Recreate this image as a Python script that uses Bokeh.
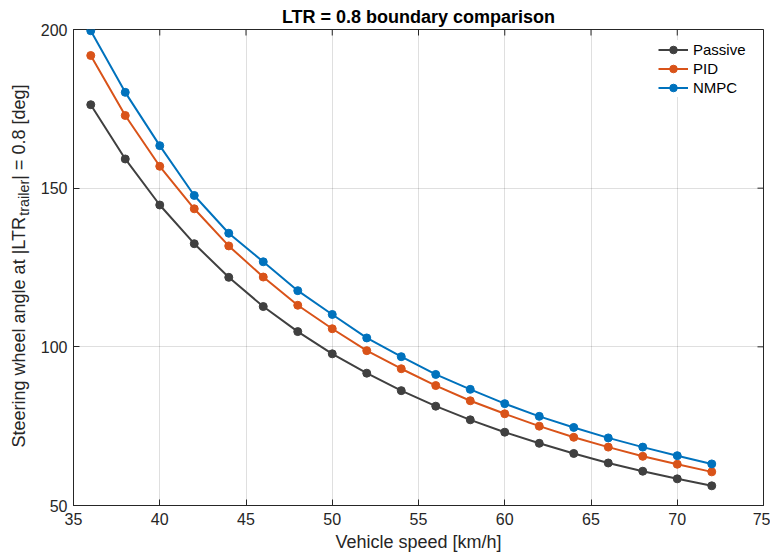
from bokeh.plotting import figure
from bokeh.models import Label, Legend, LegendItem, FixedTicker, Range1d
from bokeh.layouts import row
from bokeh.embed import file_html
from bokeh.resources import INLINE
import math

# ---- data ----
speeds = [36, 38, 40, 42, 44, 46, 48, 50, 52, 54, 56, 58, 60, 62, 64, 66, 68, 70, 72]
passive = [176.3, 159.2, 144.7, 132.5, 121.9, 112.7, 104.8, 97.8, 91.7, 86.2,
           81.3, 77.0, 73.1, 69.6, 66.4, 63.4, 60.8, 58.4, 56.2]
pid = [191.8, 172.9, 156.9, 143.5, 131.8, 122.0, 113.1, 105.7, 98.8, 93.1,
       87.8, 83.0, 78.9, 75.0, 71.5, 68.4, 65.5, 63.0, 60.6]
nmpc = [199.6, 180.2, 163.4, 147.7, 135.8, 126.8, 117.7, 110.2, 102.8, 96.9,
        91.3, 86.6, 82.1, 78.1, 74.6, 71.3, 68.4, 65.7, 63.1]
series_names = ["Passive", "PID", "NMPC"]
series_colors = ["#404040", "#D95319", "#0072BD"]
x_ticks = [35, 40, 45, 50, 55, 60, 65, 70, 75]
y_ticks = [50, 100, 150, 200]
title_text = "LTR = 0.8 boundary comparison"
x_label = "Vehicle speed [km/h]"
y_label_parts = ["Steering wheel angle at |LTR", "trailer", "| = 0.8 [deg]"]

FONT = "Liberation Sans"
AX = "#262626"
W, H = 770, 556
LW = 37                      # width of the strip holding the y-axis label
BL, BR, BT, BB = 36, 7, 29, 51
X0, X1 = x_ticks[0], x_ticks[-1]
Y0, Y1 = y_ticks[0], y_ticks[-1]

p = figure(width=W - LW, height=H, x_range=Range1d(X0, X1), y_range=Range1d(Y0, Y1),
           output_backend="svg", toolbar_location=None,
           min_border_left=BL, min_border_right=BR, min_border_top=BT, min_border_bottom=BB,
           title=title_text)
p.background_fill_color = "white"
p.border_fill_color = "white"
p.outline_line_color = AX
p.outline_line_width = 1

p.title.text_font = FONT
p.title.text_font_size = "18px"
p.title.text_font_style = "bold"
p.title.text_color = "#000000"
p.title.align = "center"
p.title.standoff = 5

def style_axis(ax):
    ax.axis_line_color = AX
    ax.axis_line_width = 1
    ax.major_tick_line_color = AX
    ax.major_tick_in = 6
    ax.major_tick_out = 0
    ax.minor_tick_line_color = None
    ax.major_label_text_font = FONT
    ax.major_label_text_color = AX
    ax.major_label_text_font_size = "16px"

p.xaxis.ticker = FixedTicker(ticks=x_ticks)
p.yaxis.ticker = FixedTicker(ticks=y_ticks)
style_axis(p.xaxis[0])
style_axis(p.yaxis[0])
p.xaxis.major_label_standoff = 7
p.yaxis.major_label_standoff = 6
p.xaxis.axis_label = x_label
p.xaxis.axis_label_text_font = FONT
p.xaxis.axis_label_text_font_size = "18px"
p.xaxis.axis_label_text_font_style = "normal"
p.xaxis.axis_label_text_color = AX
p.xaxis.axis_label_standoff = 4

for g in (p.xgrid[0], p.ygrid[0]):
    g.grid_line_color = AX
    g.grid_line_alpha = 0.15
p.xgrid.ticker = FixedTicker(ticks=x_ticks)
p.ygrid.ticker = FixedTicker(ticks=y_ticks)

# inward ticks on the top and right edges of the box
p.ray(x=x_ticks, y=[Y1] * len(x_ticks), length=6, length_units="screen",
      angle=-math.pi / 2, line_color=AX, line_width=1)
p.ray(x=[X1] * len(y_ticks), y=y_ticks, length=6, length_units="screen",
      angle=math.pi, line_color=AX, line_width=1)

items = []
for name, ys, col in zip(series_names, [passive, pid, nmpc], series_colors):
    l = p.line(speeds, ys, line_color=col, line_width=2)
    c = p.scatter(speeds, ys, marker="circle", size=8, fill_color=col, line_color=col)
    items.append(LegendItem(label=name, renderers=[l, c]))

legend = Legend(items=items, location=(585, 408), padding=6, spacing=0,
                glyph_width=30, glyph_height=19, label_height=19, label_standoff=5,
                label_text_font=FONT, label_text_font_size="15px", label_text_color="#000000",
                border_line_color=None, background_fill_color="white", background_fill_alpha=1.0,
                margin=0)
p.add_layout(legend)

# ---- strip on the left carrying the y-axis label (with subscript) ----
# its frame is aligned with the main frame, so its y range is given in page pixels
q = figure(width=LW, height=H, x_range=Range1d(0, LW), y_range=Range1d(H - BB, BT),
           output_backend="svg", toolbar_location=None,
           x_axis_location=None, y_axis_location=None,
           min_border_left=0, min_border_right=0, min_border_top=BT, min_border_bottom=BB)
q.grid.visible = False
q.outline_line_color = None
q.background_fill_color = "white"
q.border_fill_color = "white"

main_px = 18
sub_px = 14.4
w1 = 12.877 * main_px
w2 = 2.5 * sub_px
start_sy = 447            # where the label begins (bottom)
base_sx = 18              # baseline of the main text
sub_sx = 23               # baseline of the subscript

for text, sx, sy, fs in [(y_label_parts[0], base_sx, start_sy, main_px),
                         (y_label_parts[1], sub_sx, start_sy - w1, sub_px),
                         (y_label_parts[2], base_sx, start_sy - w1 - w2, main_px)]:
    q.add_layout(Label(x=sx, y=sy, text=text, angle=math.pi / 2,
                       text_font=FONT, text_font_size=f"{fs}px", text_color=AX,
                       text_align="left", text_baseline="alphabetic"))

layout = row(q, p, spacing=0)
open("out.html", "w").write(file_html(layout, INLINE))
